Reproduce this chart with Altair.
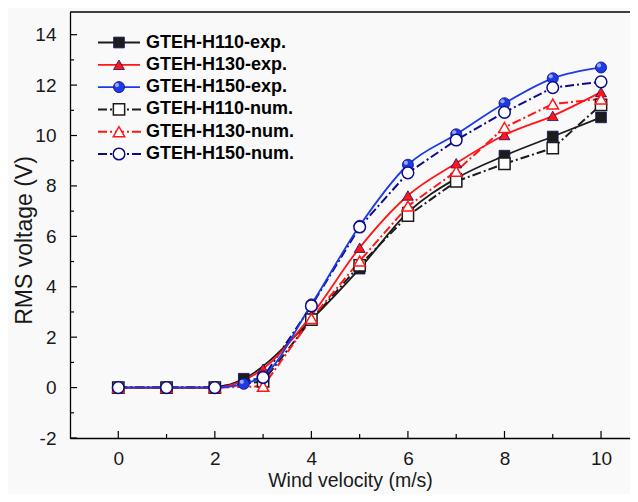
import altair as alt
import pandas as pd

# ---------------- data ----------------
series = ["GTEH-H110-exp.", "GTEH-H130-exp.", "GTEH-H150-exp.",
          "GTEH-H110-num.", "GTEH-H130-num.", "GTEH-H150-num."]

x_exp_h110 = [0, 1, 2, 2.6, 4, 5, 6, 7, 8, 9, 10]
y_exp_h110 = [0, 0, 0, 0.35, 2.7, 4.72, 6.95, 8.3, 9.2, 9.96, 10.72]
x_exp_h130 = [0, 1, 2, 3, 4, 5, 6, 7, 8, 9, 10]
y_exp_h130 = [0, 0, 0, 0.75, 2.87, 5.55, 7.62, 8.9, 10.02, 10.78, 11.72]
x_exp_h150 = [0, 1, 2, 2.6, 3, 4, 5, 6, 7, 8, 9, 10]
y_exp_h150 = [0, 0, 0, 0.15, 0.45, 3.3, 6.42, 8.84, 10.05, 11.28, 12.27, 12.7]

x_num = [0, 1, 2, 3, 4, 5, 6, 7, 8, 9, 10]
y_num_h110 = [0, 0, 0, 0.25, 2.7, 4.85, 6.82, 8.18, 8.88, 9.5, 11.22]
y_num_h130 = [0, 0, 0, 0.05, 2.74, 5.02, 7.2, 8.58, 10.32, 11.25, 11.45]
y_num_h150 = [0, 0, 0, 0.4, 3.24, 6.37, 8.52, 9.82, 10.92, 11.9, 12.13]

y_major = [-2, 0, 2, 4, 6, 8, 10, 12, 14]
y_minor = [-1, 1, 3, 5, 7, 9, 11, 13]
x_major = [0, 2, 4, 6, 8, 10]
x_minor = [1, 3, 5, 7, 9]

# ---------------- styles ----------------
colors = ["#1c1c1c", "#ff1717", "#1d3ae8", "#1c1c1c", "#ff1717", "#0c0c88"]
shapes = ["square", "triangle-up", "circle", "square", "triangle-up", "circle"]
FONT = "Liberation Sans"
W, H = 560, 426


def frame(xs, ys, name):
    return pd.DataFrame({"x": xs, "y": ys, "series": name})


exp_df = pd.concat([
    frame(x_exp_h110, y_exp_h110, series[0]),
    frame(x_exp_h130, y_exp_h130, series[1]),
    frame(x_exp_h150, y_exp_h150, series[2]),
])
num_df = pd.concat([
    frame(x_num, y_num_h110, series[3]),
    frame(x_num, y_num_h130, series[4]),
    frame(x_num, y_num_h150, series[5]),
])

color_scale = alt.Scale(domain=series, range=colors)
shape_scale = alt.Scale(domain=series, range=shapes)
size_scale = alt.Scale(domain=series, range=[115, 135, 140, 70, 85, 75])

x_axis = alt.Axis(title="Wind velocity (m/s)", values=x_major, ticks=False, tickSize=0,
                  grid=False, domainColor="black", domainWidth=1.3,
                  labelExpr="'' + datum.value",
                  labelFont=FONT, labelFontSize=19, labelColor="#1a1a1a", labelPadding=11,
                  titleFont=FONT, titleFontSize=19.5, titleFontWeight="normal",
                  titleColor="#1a1a1a", titlePadding=3)
y_axis = alt.Axis(title="RMS voltage (V)", values=y_major, ticks=False, tickSize=0,
                  grid=False, domainColor="black", domainWidth=1.3,
                  labelExpr="'' + datum.value",
                  labelFont=FONT, labelFontSize=19, labelColor="#1a1a1a", labelPadding=14,
                  titleFont=FONT, titleFontSize=23, titleFontWeight="normal",
                  titleColor="#1a1a1a", titleAngle=270, titleAlign="center",
                  titleBaseline="alphabetic", titleX=-39, titleY=228)

X = lambda f: alt.X(f, scale=alt.Scale(domain=[-1, 10.6], nice=False, zero=False), axis=x_axis)
Y = lambda f: alt.Y(f, scale=alt.Scale(domain=[-2, 14.9], nice=False, zero=False), axis=y_axis)

col = alt.Color("series:N", scale=color_scale, legend=None)
shp = alt.Shape("series:N", scale=shape_scale, legend=None)
siz = alt.Size("series:N", scale=size_scale, legend=None)

exp_lines = alt.Chart(exp_df).mark_line(interpolate="monotone", strokeWidth=1.8).encode(
    x=X("x:Q"), y=Y("y:Q"), color=col, detail="series:N")
num_lines = alt.Chart(num_df).mark_line(strokeWidth=2, strokeDash=[9, 3, 2, 3]).encode(
    x=X("x:Q"), y=Y("y:Q"), color=col, detail="series:N")
exp_pts = alt.Chart(exp_df).mark_point(filled=True, opacity=1, strokeWidth=0.8).encode(
    x=X("x:Q"), y=Y("y:Q"), fill=alt.Fill("series:N", scale=color_scale, legend=None),
    stroke=alt.value("#10106a"), shape=shp, size=siz)
sphere_hi = alt.Chart(exp_df).transform_filter(alt.datum.series == series[2]).mark_circle(
    size=18, color="#9aa8ff", opacity=1, xOffset=-2, yOffset=-2).encode(x=X("x:Q"), y=Y("y:Q"))
num_pts = alt.Chart(num_df).mark_point(filled=False, fill="white", fillOpacity=1,
                                       opacity=1, strokeWidth=1.5).encode(
    x=X("x:Q"), y=Y("y:Q"), stroke=alt.Stroke("series:N", scale=color_scale, legend=None),
    shape=shp, size=siz)


# inward ticks
def yticks(vals, length):
    return alt.Chart(pd.DataFrame({"v": vals})).mark_rule(color="black", strokeWidth=1.2).encode(
        y=Y("v:Q"), x=alt.value(0), x2=alt.value(length))


def xticks(vals, length):
    return alt.Chart(pd.DataFrame({"v": vals})).mark_rule(color="black", strokeWidth=1.2).encode(
        x=X("v:Q"), y=alt.value(H), y2=alt.value(H - length))


top_border = alt.Chart(pd.DataFrame({"a": [0]})).mark_rule(color="black", strokeWidth=1.3).encode(
    x=alt.value(0), x2=alt.value(W), y=alt.value(0))

main = alt.layer(num_lines, exp_lines, exp_pts, sphere_hi, num_pts,
                 yticks(y_major, 7), yticks(y_minor, 4), xticks(x_major, 7), xticks(x_minor, 4),
                 top_border)

# ---------------- legend ----------------
leg_df = pd.DataFrame({"series": series, "row": list(range(len(series)))})
LY = alt.Y("row:Q", scale=alt.Scale(domain=[0, 5], range=[30.5, 142]), axis=None)

leg_exp_line = alt.Chart(leg_df).transform_filter(alt.datum.row < 3).mark_rule(strokeWidth=1.8).encode(
    x=alt.value(28), x2=alt.value(70), y=LY, color=col)
leg_num_line = alt.Chart(leg_df).transform_filter(alt.datum.row >= 3).mark_rule(
    strokeWidth=2, strokeDash=[9, 3, 2, 3]).encode(
    x=alt.value(28), x2=alt.value(72), y=LY, color=col)
leg_exp_pts = alt.Chart(leg_df).transform_filter(alt.datum.row < 3).mark_point(
    filled=True, opacity=1, strokeWidth=0.8).encode(
    x=alt.value(49), y=LY, fill=alt.Fill("series:N", scale=color_scale, legend=None),
    stroke=alt.value("#10106a"), shape=shp, size=siz)
leg_hi = alt.Chart(leg_df).transform_filter(alt.datum.row == 2).mark_circle(
    size=18, color="#9aa8ff", opacity=1, xOffset=-2, yOffset=-2).encode(x=alt.value(49), y=LY)
leg_num_pts = alt.Chart(leg_df).transform_filter(alt.datum.row >= 3).mark_point(
    filled=False, fill="white", fillOpacity=1, opacity=1, strokeWidth=1.5).encode(
    x=alt.value(49), y=LY, stroke=alt.Stroke("series:N", scale=color_scale, legend=None),
    shape=shp, size=siz)
leg_text = alt.Chart(leg_df).mark_text(align="left", baseline="middle", font=FONT, fontSize=18,
                                       fontWeight="bold", color="black").encode(
    x=alt.value(76), y=LY, text="series:N")

legend = alt.layer(leg_exp_line, leg_num_line, leg_exp_pts, leg_hi, leg_num_pts, leg_text)

chart = alt.layer(main, legend).resolve_scale(y="independent").properties(
    width=W, height=H,
    autosize=alt.AutoSizeParams(type="none"),
    padding={"left": 62, "top": 4, "right": 0, "bottom": 56},
    background="#f9f9f9",
).configure_view(stroke=None)

chart.save("out.html", embed_options={"renderer": "svg", "actions": False})
